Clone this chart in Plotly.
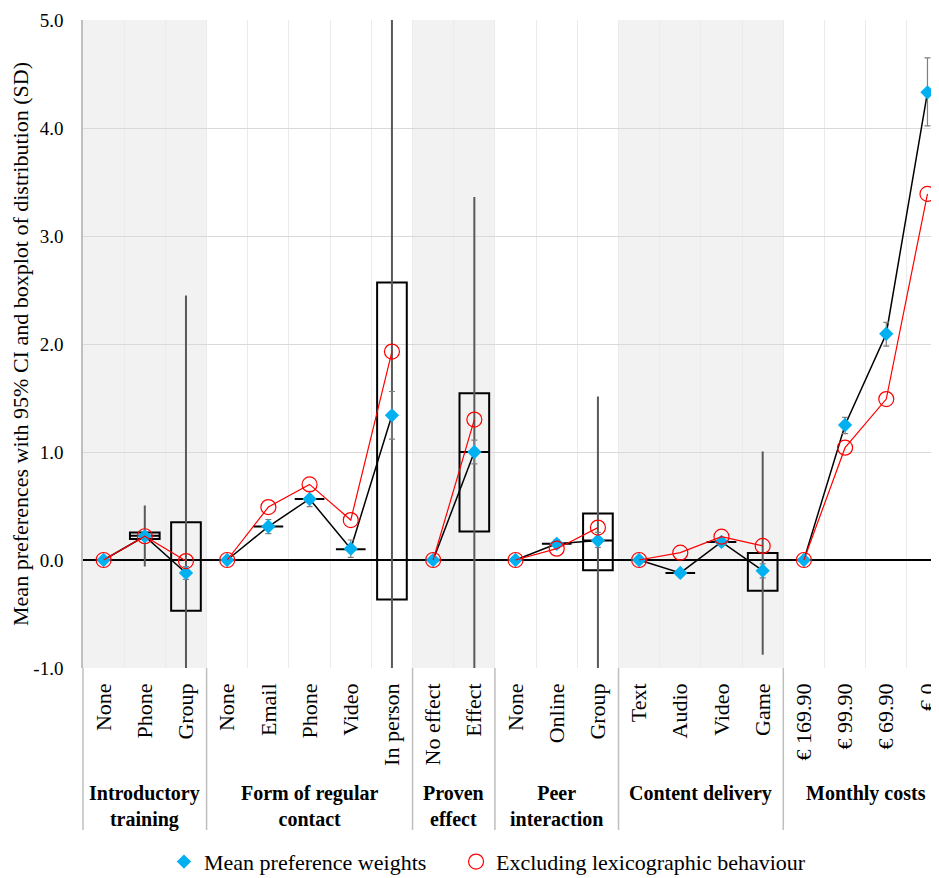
import plotly.graph_objects as go

# ---------------- data ----------------
categories = ["None", "Phone", "Group",
              "None", "Email", "Phone", "Video", "In person",
              "No effect", "Effect",
              "None", "Online", "Group",
              "Text", "Audio", "Video", "Game",
              "€ 169.90", "€ 99.90", "€ 69.90", "€ 0"]
group_names = ["Introductory<br>training", "Form of regular<br>contact", "Proven<br>effect",
               "Peer<br>interaction", "Content delivery", "Monthly costs"]
group_sizes = [3, 5, 2, 3, 4, 4]
group_shaded = [True, False, True, False, True, False]

mean_weights = [0, 0.22, -0.12,
                0, 0.31, 0.565, 0.105, 1.34,
                0, 1.00,
                0, 0.15, 0.18,
                0, -0.12, 0.167, -0.099,
                0, 1.25, 2.095, 4.33]
ci_low = [0, 0.19, -0.18,
          0, 0.245, 0.495, 0.025, 1.12,
          0, 0.89,
          0, 0.11, 0.117,
          0, -0.15, 0.137, -0.165,
          0, 1.17, 1.98, 4.02]
ci_high = [0, 0.25, -0.06,
           0, 0.375, 0.635, 0.185, 1.56,
           0, 1.11,
           0, 0.19, 0.255,
           0, -0.09, 0.197, -0.035,
           0, 1.32, 2.20, 4.65]
excl_lexico = [0, 0.22, -0.01,
               0, 0.49, 0.70, 0.37, 1.93,
               0, 1.30,
               0, 0.105, 0.30,
               0, 0.068, 0.216, 0.13,
               0, 1.04, 1.49, 3.39]

# boxplot of distribution
box_pos = [1, 2, 4, 5, 6, 7, 9, 11, 12, 14, 15, 16]
box_q1 = [0.195, -0.47, 0.31, 0.565, 0.10, -0.365, 0.265, 0.15, -0.096, -0.12, 0.167, -0.285]
box_med = [0.225, 0.0, 0.31, 0.565, 0.10, 0.0, 1.00, 0.15, 0.18, -0.12, 0.167, 0.0]
box_q3 = [0.255, 0.35, 0.31, 0.565, 0.10, 2.57, 1.545, 0.15, 0.43, -0.12, 0.167, 0.065]
whisk_pos = [1, 2, 7, 9, 12, 16]
whisk_lo = [-0.06, -1.4, -1.5, -1.3, -1.2, -0.877]
whisk_hi = [0.505, 2.45, 6.2, 3.36, 1.515, 1.005]

y_tickvals = [-1, 0, 1, 2, 3, 4, 5]
y_ticktext = ["-1.0", "0.0", "1.0", "2.0", "3.0", "4.0", "5.0"]

FONT = "Liberation Serif"
BLUE = "#00B0F0"
RED = "#FF0000"

# ---------------- helpers ----------------
idx = list(range(len(categories)))
starts = []
s = 0
for n in group_sizes:
    starts.append(s)
    s += n


def grouped(values):
    xs, ys = [], []
    for st, n in zip(starts, group_sizes):
        xs += idx[st:st + n] + [None]
        ys += values[st:st + n] + [None]
    return xs, ys


fig = go.Figure()

# boxes
fig.add_trace(go.Box(
    x=box_pos, q1=box_q1, median=box_med, q3=box_q3,
    lowerfence=box_q1, upperfence=box_q3,
    width=0.72, whiskerwidth=0,
    line=dict(color="black", width=2),
    fillcolor="rgba(0,0,0,0)", showlegend=False, hoverinfo="skip",
))

# whiskers
wx, wy = [], []
for p, lo, hi in zip(whisk_pos, whisk_lo, whisk_hi):
    wx += [p, p, None]
    wy += [lo, hi, None]
fig.add_trace(go.Scatter(x=wx, y=wy, mode="lines",
                         line=dict(color="#595959", width=2),
                         showlegend=False, hoverinfo="skip"))

# connecting lines
bx, by = grouped(mean_weights)
fig.add_trace(go.Scatter(x=bx, y=by, mode="lines",
                         line=dict(color="black", width=1.5),
                         showlegend=False, hoverinfo="skip"))

fig.add_trace(go.Scatter(
    x=idx, y=mean_weights, mode="markers", name="Mean preference weights",
    marker=dict(symbol="diamond", size=11, color=BLUE),
    error_y=dict(type="data", symmetric=False,
                 array=[h - m for h, m in zip(ci_high, mean_weights)],
                 arrayminus=[m - l for m, l in zip(mean_weights, ci_low)],
                 color="#7F7F7F", thickness=1.2, width=3),
    legend="legend",
))

rx, ry = grouped(excl_lexico)
fig.add_trace(go.Scatter(x=rx, y=ry, mode="lines",
                         line=dict(color=RED, width=1.2),
                         showlegend=False, hoverinfo="skip"))
fig.add_trace(go.Scatter(
    x=idx, y=excl_lexico, mode="markers", name="Excluding lexicographic behaviour",
    marker=dict(symbol="circle-open", size=15, color=RED, line=dict(width=1.2)),
    legend="legend2",
))

# shaded bands, separators and group labels
shapes = []
annotations = []
for st, n, name, shade in zip(starts, group_sizes, group_names, group_shaded):
    x0 = st - 0.5
    x1 = st + n - 0.5
    if shade:
        shapes.append(dict(type="rect", xref="x", yref="paper", x0=x0, x1=x1, y0=0, y1=1,
                           fillcolor="#F2F2F2", line=dict(width=0), layer="below"))
    if st > 0:
        shapes.append(dict(type="line", xref="x", yref="paper", x0=x0, x1=x0, y0=0, y1=-0.25,
                           line=dict(color="#BFBFBF", width=1.5)))
    annotations.append(dict(x=(x0 + x1) / 2, y=-0.173, xref="x", yref="paper",
                            text="<b>" + name + "</b>", showarrow=False,
                            yanchor="top", xanchor="center",
                            font=dict(family=FONT, size=20, color="black")))
shapes.append(dict(type="line", xref="paper", yref="paper", x0=0, x1=0, y0=0, y1=-0.25,
                   line=dict(color="#BFBFBF", width=1.5)))

legend_style = dict(orientation="h", xanchor="left", y=-0.299, yanchor="middle",
                    font=dict(family=FONT, size=22, color="black"),
                    bgcolor="rgba(0,0,0,0)")

# the page body adds an 8px offset, so the figure is sized to fill the rest of the window
fig.update_layout(
    width=931, height=870,
    margin=dict(l=75, r=0, t=12, b=210, autoexpand=False),
    paper_bgcolor="white", plot_bgcolor="white",
    font=dict(family=FONT, size=20, color="black"),
    shapes=shapes, annotations=annotations,
    showlegend=True,
    legend=dict(x=0.0946, **legend_style),
    legend2=dict(x=0.4358, **legend_style),
    xaxis=dict(range=[-0.5, 20.28], tickmode="array", tickvals=idx, ticktext=categories,
               tickangle=-90, tickfont=dict(family=FONT, size=22, color="black"),
               ticks="", ticklabelstandoff=10, ticklabeloverflow="allow",
               showgrid=False, zeroline=False,
               showline=False, automargin=False,
               minor=dict(tick0=-0.5, dtick=1, showgrid=True, gridcolor="#EBEBEB",
                          gridwidth=1, ticks="")),
    yaxis=dict(range=[-1, 5], tickmode="array", tickvals=y_tickvals, ticktext=y_ticktext,
               tickfont=dict(family=FONT, size=19, color="black"),
               ticks="", ticklabelstandoff=14, automargin=False,
               showgrid=True, gridcolor="#D9D9D9", gridwidth=1,
               zeroline=True, zerolinecolor="black", zerolinewidth=2,
               showline=True, linecolor="#BFBFBF", linewidth=1.5,
               title=dict(text="Mean preferences with 95% CI and boxplot of distribution (SD)",
                          font=dict(family=FONT, size=22, color="black"), standoff=12)),
)

fig.write_html("out.html")
